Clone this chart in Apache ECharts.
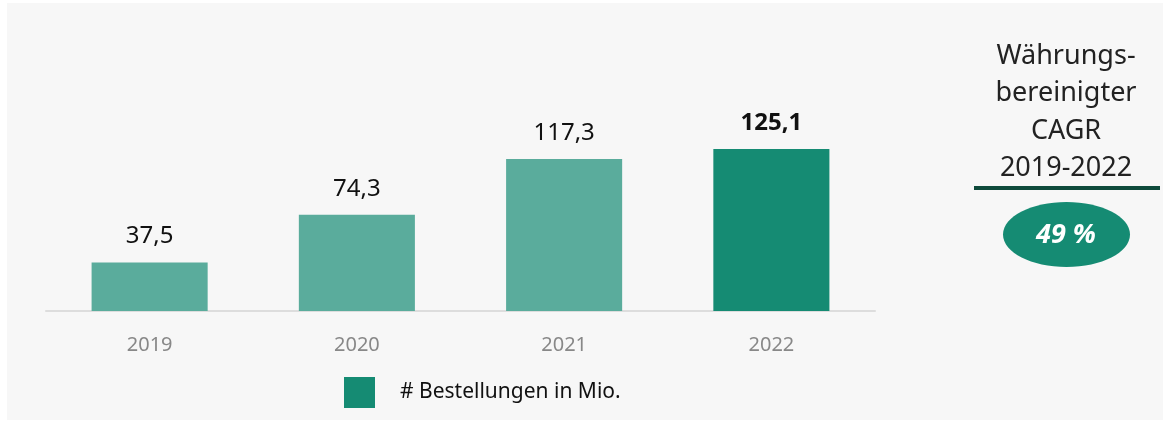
<!DOCTYPE html>
<html>
<head>
<meta charset="utf-8">
<script src="https://cdn.jsdelivr.net/npm/echarts@6/dist/echarts.min.js"></script>
<style>
  html, body { margin: 0; padding: 0; background: #ffffff; }
  #panel {
    position: absolute;
    left: 7px;
    top: 3px;
    width: 1156px;
    height: 417px;
    background: #f7f7f7;
  }
  #main {
    position: absolute;
    left: 0;
    top: 0;
    width: 1165px;
    height: 423px;
  }
</style>
</head>
<body>
<div id="panel"></div>
<div id="main"></div>
<script>
  // data
  let years = ['2019', '2020', '2021', '2022'];
  let orders = [37.5, 74.3, 117.3, 125.1];
  let seriesName = '# Bestellungen in Mio.';
  let cagrLines = ['Währungs-', 'bereinigter', 'CAGR', '2019-2022'];
  let cagrValue = '49 %';

  let font = "'Source Sans Pro', 'Noto Sans', sans-serif";
  let lightGreen = '#5aac9c';
  let darkGreen = '#158b73';

  let chart = echarts.init(document.getElementById('main'));

  let barData = orders.map((v, i) => {
      let last = i === orders.length - 1;
      return {
          value: v,
          itemStyle: { color: last ? darkGreen : lightGreen },
          label: { fontWeight: last ? 'bold' : 'normal' }
      };
  });

  // right-hand CAGR box
  let graphics = cagrLines.map((t, i) => ({
      type: 'text',
      x: 1066,
      y: 56 + i * 37.5,
      style: {
          text: t,
          fill: '#222',
          font: '27px ' + font,
          textAlign: 'center',
          textVerticalAlign: 'middle'
      }
  }));
  graphics.push({
      type: 'rect',
      shape: { x: 974, y: 186, width: 186, height: 4 },
      style: { fill: '#0e4a3b' }
  });
  graphics.push({
      type: 'ellipse',
      shape: { cx: 1066.5, cy: 234.5, rx: 63.5, ry: 32.5 },
      style: { fill: darkGreen }
  });
  graphics.push({
      type: 'text',
      x: 1066,
      y: 235,
      style: {
          text: cagrValue,
          fill: '#ffffff',
          font: 'italic bold 27px ' + font,
          textAlign: 'center',
          textVerticalAlign: 'middle'
      }
  });

  let option = {
      backgroundColor: 'transparent',
      animation: false,
      textStyle: { fontFamily: font },
      grid: {
          left: 46,
          right: 290,
          top: 52,
          bottom: 112
      },
      legend: {
          left: 344,
          top: 377,
          padding: 0,
          itemWidth: 31,
          itemHeight: 31,
          icon: 'rect',
          data: [seriesName],
          textStyle: {
              color: '#111',
              fontSize: 21,
              fontFamily: font,
              padding: [0, 0, 0, 20]
          }
      },
      xAxis: {
          type: 'category',
          data: years,
          axisLine: { lineStyle: { color: '#dddddd', width: 2 } },
          axisTick: { show: false },
          axisLabel: {
              color: '#888',
              fontSize: 20,
              margin: 24
          }
      },
      yAxis: {
          type: 'value',
          min: 0,
          max: 200,
          show: false,
          splitLine: { show: false }
      },
      series: [
          {
              name: seriesName,
              type: 'bar',
              barWidth: '56%',
              data: barData,
              itemStyle: { color: darkGreen },
              label: {
                  show: true,
                  position: 'top',
                  distance: 14,
                  color: '#111',
                  fontSize: 24,
                  formatter: (p) => String(p.value).replace('.', ',')
              }
          }
      ],
      graphic: graphics
  };

  chart.setOption(option);
</script>
</body>
</html>
